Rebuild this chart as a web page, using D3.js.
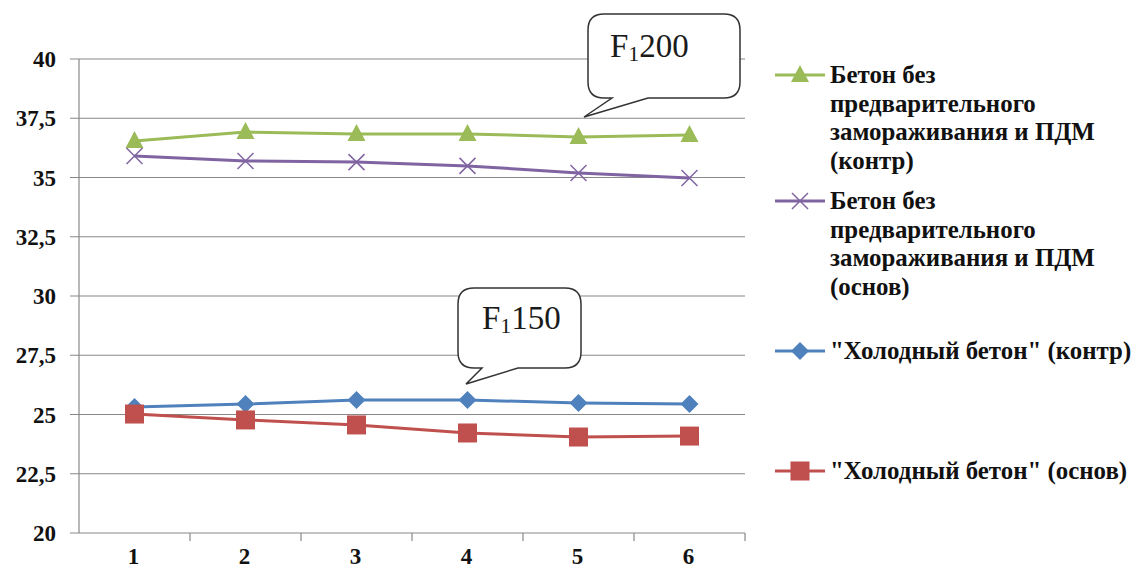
<!DOCTYPE html>
<html><head><meta charset="utf-8">
<script src="https://cdn.jsdelivr.net/npm/d3@7"></script>
<style>body{margin:0;background:#fff}svg{display:block}
text{font-family:'Liberation Serif','Times New Roman',serif}
.b{font-weight:bold}
</style>
</head><body>
<svg id="c" width="1133" height="573"></svg>
<script>
const categories = ["1","2","3","4","5","6"];
const yTicks = [20,22.5,25,27.5,30,32.5,35,37.5,40];
const greenVals  = [36.54,36.92,36.84,36.84,36.71,36.79];
const purpleVals = [35.91,35.70,35.65,35.49,35.19,34.98];
const blueVals   = [25.32,25.44,25.61,25.61,25.49,25.44];
const redVals    = [25.02,24.77,24.56,24.22,24.05,24.09];
const seriesNames = [
  ["Бетон без","предварительного","замораживания и ПДМ","(контр)"],
  ["Бетон без","предварительного","замораживания и ПДМ","(основ)"],
  ["\"Холодный бетон\" (контр)"],
  ["\"Холодный бетон\" (основ)"]
];
const callouts = [{label:"200"},{label:"150"}];

const svg = d3.select("#c");
const L=79,R=745,T=59,B=533;
const xs = d3.scaleBand().domain(categories).range([L,R]);
const ys = d3.scaleLinear().domain([20,40]).range([B,T]);
const fmt = d => String(d).replace(".",",");

svg.append("g").selectAll("line").data(yTicks).join("line")
  .attr("x1",70).attr("x2",R).attr("y1",d=>ys(d)).attr("y2",d=>ys(d))
  .attr("stroke","#888").attr("stroke-width",1.2);
svg.append("line").attr("x1",L).attr("x2",L).attr("y1",T).attr("y2",B).attr("stroke","#888").attr("stroke-width",1.2);
svg.append("g").selectAll("text").data(yTicks).join("text").attr("class","b")
  .attr("x",56).attr("y",d=>ys(d)+8).attr("text-anchor","end")
  .attr("font-size",23).attr("fill","#111")
  .text(fmt);
const bounds = categories.map(c=>xs(c)+xs.bandwidth());
svg.append("g").selectAll("line").data(bounds).join("line")
  .attr("x1",d=>d).attr("x2",d=>d).attr("y1",B).attr("y2",B+8).attr("stroke","#888").attr("stroke-width",1.2);
svg.append("g").selectAll("text").data(categories).join("text").attr("class","b")
  .attr("x",d=>xs(d)+xs.bandwidth()/2-1).attr("y",B+31).attr("text-anchor","middle")
  .attr("font-size",23).attr("fill","#111")
  .text(d=>d);

const cx = c => xs(c)+xs.bandwidth()/2;
const series = [
  {vals:greenVals,color:"#9BBB59",marker:"tri"},
  {vals:purpleVals,color:"#8064A2",marker:"x"},
  {vals:blueVals,color:"#4F81BD",marker:"dia"},
  {vals:redVals,color:"#C0504D",marker:"sq"}
];
const lineGen = d3.line().x((d,i)=>cx(categories[i])).y(d=>ys(d));
function marker(g,type,color,px,py){
  if(type==="tri") g.append("path").attr("d",`M${px},${py-10}L${px+9},${py+7}L${px-9},${py+7}Z`).attr("fill",color);
  else if(type==="x") g.append("path").attr("d",`M${px-8},${py-8}L${px+8},${py+8}M${px-8},${py+8}L${px+8},${py-8}`).attr("stroke",color).attr("stroke-width",1.5).attr("fill","none");
  else if(type==="dia") g.append("path").attr("d",`M${px},${py-9}L${px+9},${py}L${px},${py+9}L${px-9},${py}Z`).attr("fill",color);
  else g.append("rect").attr("x",px-9.5).attr("y",py-9.5).attr("width",19).attr("height",19).attr("fill",color);
}
series.forEach(s=>{
  svg.append("path").datum(s.vals).attr("d",lineGen).attr("fill","none").attr("stroke",s.color).attr("stroke-width",3);
  const g=svg.append("g");
  s.vals.forEach((v,i)=>marker(g,s.marker,s.color,cx(categories[i]),ys(v)));
});

const probe = svg.append("text").attr("class","b").attr("font-size",20).text(seriesNames[0][2]);
const legSize = Math.min(26, 20*265/probe.node().getComputedTextLength());
probe.remove();
const legY=[75,201,351,471];
series.forEach((s,i)=>{
  const g=svg.append("g");
  g.append("line").attr("x1",775).attr("x2",825).attr("y1",legY[i]).attr("y2",legY[i]).attr("stroke",s.color).attr("stroke-width",3);
  marker(g,s.marker,s.color,800,legY[i]);
  seriesNames[i].forEach((t,j)=>{
    g.append("text").attr("class","b").attr("x",830).attr("y",legY[i]+8+j*28.5)
      .attr("font-size",legSize).attr("fill","#111").text(t);
  });
});

function callout(x0,y0,x1,y1,tb0,tb1,tip,label,tx,ty){
  const r=16;
  const p=`M${x0+r},${y0}H${x1-r}Q${x1},${y0} ${x1},${y0+r}V${y1-r}Q${x1},${y1} ${x1-r},${y1}H${tb1}L${tip[0]},${tip[1]}L${tb0},${y1}H${x0+r}Q${x0},${y1} ${x0},${y1-r}V${y0+r}Q${x0},${y0} ${x0+r},${y0}Z`;
  svg.append("path").attr("d",p).attr("fill","#fff").attr("stroke","#333").attr("stroke-width",1.5);
  const t=svg.append("text").attr("x",tx).attr("y",ty).attr("font-size",33).attr("fill","#1a1a1a");
  t.append("tspan").text("F");
  t.append("tspan").attr("font-size",22).attr("dy",4).text("1");
  t.append("tspan").attr("dy",-4).text(label);
}
callout(588,14,740,98,612,648,[584,117],callouts[0].label,610,57);
callout(458,288,581,368,482,518,[466,384],callouts[1].label,482,329);
</script>
</body></html>
